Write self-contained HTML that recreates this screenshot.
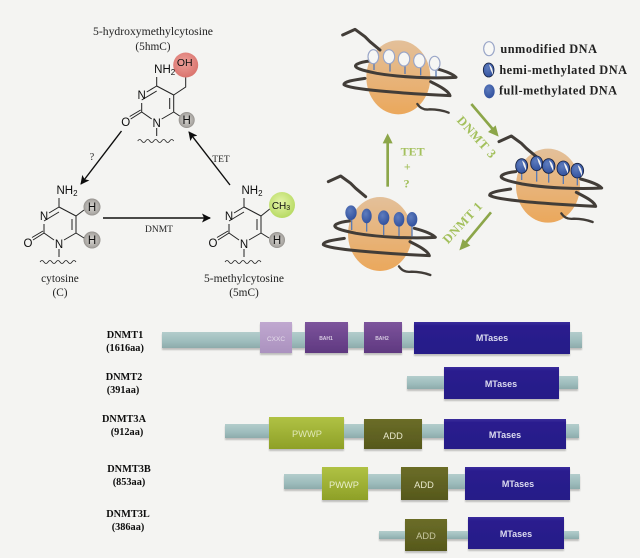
<!DOCTYPE html>
<html>
<head>
<meta charset="utf-8">
<style>
html,body{margin:0;padding:0;background:#f4f4f2;}
svg{display:block;}
text{font-family:"Liberation Serif",serif;}
.s text{font-family:"Liberation Sans",sans-serif;}
</style>
</head>
<body>
<svg width="640" height="558" viewBox="0 0 640 558" xmlns="http://www.w3.org/2000/svg">
<defs>
<filter id="soft" x="-2%" y="-2%" width="104%" height="104%"><feGaussianBlur stdDeviation="0.3"/></filter>
<filter id="sh" x="-5%" y="-10%" width="110%" height="125%"><feGaussianBlur stdDeviation="0.7"/></filter>
<linearGradient id="bar" x1="0" y1="0" x2="0" y2="1"><stop offset="0" stop-color="#b3cdcc"/><stop offset=".6" stop-color="#9dbcbc"/><stop offset="1" stop-color="#8dabab"/></linearGradient>
<linearGradient id="mt" x1="0" y1="0" x2="0" y2="1"><stop offset="0" stop-color="#3a2c9c"/><stop offset=".12" stop-color="#2a1d8e"/><stop offset="1" stop-color="#261a88"/></linearGradient>
<linearGradient id="pw" x1="0" y1="0" x2="0" y2="1"><stop offset="0" stop-color="#b0c244"/><stop offset="1" stop-color="#8ea027"/></linearGradient>
<linearGradient id="ad" x1="0" y1="0" x2="0" y2="1"><stop offset="0" stop-color="#6b6d28"/><stop offset="1" stop-color="#56581c"/></linearGradient>
<linearGradient id="ba" x1="0" y1="0" x2="0" y2="1"><stop offset="0" stop-color="#7c549c"/><stop offset="1" stop-color="#5f3880"/></linearGradient>
<linearGradient id="cx" x1="0" y1="0" x2="0" y2="1"><stop offset="0" stop-color="#c0a8d0"/><stop offset="1" stop-color="#ab92bf"/></linearGradient>
<linearGradient id="core" x1="0" y1="0" x2="0" y2="1"><stop offset="0" stop-color="#e3c09a"/><stop offset="1" stop-color="#eba85c"/></linearGradient>
<radialGradient id="hc" cx=".5" cy=".5" r=".6"><stop offset="0" stop-color="#d8d6d2"/><stop offset=".7" stop-color="#aaa7a3"/><stop offset="1" stop-color="#6f6c68"/></radialGradient>
<radialGradient id="red" cx=".45" cy=".4" r=".65"><stop offset="0" stop-color="#eea09a"/><stop offset="1" stop-color="#d8706a"/></radialGradient>
<radialGradient id="grn" cx=".45" cy=".4" r=".65"><stop offset="0" stop-color="#e4f4a8"/><stop offset="1" stop-color="#b4d85e"/></radialGradient>
<radialGradient id="blu" cx=".4" cy=".35" r=".7"><stop offset="0" stop-color="#5e7cbe"/><stop offset="1" stop-color="#2f4f9c"/></radialGradient>
<marker id="ah" markerWidth="10" markerHeight="10" refX="8" refY="4.500" orient="auto" markerUnits="userSpaceOnUse"><path d="M0 0L9 4.500L0 9L2 4.500Z" fill="#111"/></marker>

<g id="ring" fill="none" stroke="#222" stroke-width="1">
  <path d="M44 221L59 212M59 207L49 213M59 207L76 216M76 216V233M72 219V230M76 233L64 240M54 240L44 233M44 233V224M44 233L33 240M43 231L32 237.500M59 249V257"/>
  <path d="M40 262q2-3 4 0t4 0t4 0t4 0t4 0t4 0t4 0t4 0t4 0" stroke-width=".8"/>
  <path d="M59 207V198"/>
</g>
<g id="core1"><ellipse cx="235" cy="232" rx="96" ry="111" fill="url(#core)"/></g>
<g id="tailT" fill="none" stroke="#423d39" stroke-width="9" stroke-linecap="round" stroke-linejoin="round">
  <path d="M68 105L105 88L135 110L150 125L180 150"/>
</g>
<g id="tailB" fill="none" stroke="#423d39" stroke-width="7" stroke-linecap="round" stroke-linejoin="round">
  <path d="M292 312Q305 332 330 328Q360 328 386 338"/>
</g>
<g id="rings" fill="none" stroke="#423d39" stroke-width="9" stroke-linecap="round" stroke-linejoin="round">
  <path d="M345 205Q395 218 408 232C340 236 240 232 170 220C130 212 95 203 110 193Q125 185 150 183"/>
  <path d="M135 235C100 240 70 245 72 254C90 268 240 280 390 287C385 270 350 255 332 245"/>
</g>
</defs>

<rect width="640" height="558" fill="#f4f4f2"/>
<g filter="url(#soft)">

<!-- Chemistry -->
<g text-anchor="middle" fill="#222" font-size="11.300">
  <text x="153" y="35" textLength="120" lengthAdjust="spacingAndGlyphs">5-hydroxymethylcytosine</text>
  <text x="153" y="50">(5hmC)</text>
  <text x="60" y="282">cytosine</text>
  <text x="60" y="296">(C)</text>
  <text x="244" y="282" textLength="80" lengthAdjust="spacingAndGlyphs">5-methylcytosine</text>
  <text x="244" y="296">(5mC)</text>
  <text x="92" y="160" font-size="10">?</text>
  <text x="221" y="162" font-size="9.500">TET</text>
  <text x="159" y="232" font-size="9.500">DNMT</text>
</g>

<!-- cytosine -->
<g>
  <use href="#ring"/>
  <circle cx="92" cy="207" r="8.500" fill="url(#hc)"/>
  <circle cx="92" cy="240" r="8.500" fill="url(#hc)"/>
  <path d="M76 216L84 210M76 233L84 238" stroke="#222" fill="none"/>
  <g class="s" fill="#111" font-size="11.500" text-anchor="middle">
    <text x="44" y="220">N</text><text x="59" y="248">N</text><text x="28" y="247">O</text>
    <text x="67" y="194">NH<tspan font-size="8" dy="2">2</tspan></text>
    <text x="92" y="211">H</text><text x="92" y="244">H</text>
  </g>
</g>

<!-- 5mC -->
<g transform="translate(185,0)">
  <use href="#ring"/>
  <path d="M76 216L86 208" stroke="#222" fill="none"/>
  <circle cx="97" cy="205" r="13" fill="url(#grn)"/>
  <circle cx="92" cy="240" r="8" fill="url(#hc)"/>
  <path d="M76 233L84 238" stroke="#222" fill="none"/>
  <g class="s" fill="#111" font-size="11.500" text-anchor="middle">
    <text x="44" y="220">N</text><text x="59" y="248">N</text><text x="28" y="247">O</text>
    <text x="67" y="194">NH<tspan font-size="8" dy="2">2</tspan></text>
    <text x="96" y="209" font-size="10">CH<tspan font-size="7" dy="1">3</tspan></text><text x="92" y="244">H</text>
  </g>
</g>

<!-- 5hmC -->
<g transform="translate(97.700,-121)">
  <use href="#ring"/>
  <path d="M76 216L88 208L88 197" stroke="#222" fill="none"/>
  <circle cx="88" cy="186" r="12.500" fill="url(#red)"/>
  <circle cx="89" cy="241" r="8" fill="url(#hc)"/>
  <path d="M76 233L82 237" stroke="#222" fill="none"/>
  <g class="s" fill="#111" font-size="11.500" text-anchor="middle">
    <text x="44" y="220">N</text><text x="59" y="248">N</text><text x="28" y="247">O</text>
    <text x="67" y="194">NH<tspan font-size="8" dy="2">2</tspan></text>
    <text x="87" y="187" font-size="10.500">OH</text><text x="89" y="245">H</text>
  </g>
</g>

<g stroke="#111" stroke-width="1.400" fill="none">
  <path d="M121.500 131L81 184" marker-end="url(#ah)"/>
  <path d="M230 185L189 132" marker-end="url(#ah)"/>
  <path d="M103 218H210" marker-end="url(#ah)"/>
</g>

<!-- Nucleosomes -->
<g transform="translate(320,0) scale(.33333)">
  <!-- top -->
  <use href="#core1"/><use href="#tailT"/><use href="#tailB"/><use href="#rings"/>
  <g stroke="#5c7cb4" stroke-width="4" fill="none"><path d="M162 190V210M210 190V215M255 197V222M302 202V226M348 210V230"/></g>
  <g fill="#f6f6f4" stroke="#9aa6c8" stroke-width="3.500">
    <ellipse cx="160" cy="170" rx="16" ry="21"/><ellipse cx="207" cy="170" rx="17" ry="21"/><ellipse cx="252" cy="177" rx="17" ry="21"/><ellipse cx="298" cy="182" rx="17" ry="21"/><ellipse cx="344" cy="190" rx="16" ry="21"/>
  </g>

  <!-- middle -->
  <g transform="translate(449,325)"><use href="#core1"/></g>
  <g transform="translate(469,320)"><use href="#tailT"/></g>
  <g transform="translate(432,328)"><use href="#tailB"/></g>
  <g transform="translate(437,332)"><use href="#rings"/></g>
  <g stroke="#5c7cb4" stroke-width="4" fill="none"><path d="M605 515V540M650 510V545M686 518V548M730 525V552M772 530V556"/></g>
  <g stroke="#16203f" stroke-width="2.500">
    <ellipse cx="605" cy="498" rx="18" ry="22" fill="url(#blu)"/><ellipse cx="650" cy="490" rx="18" ry="22" fill="url(#blu)"/><ellipse cx="686" cy="498" rx="19" ry="22" fill="url(#blu)"/><ellipse cx="730" cy="505" rx="19" ry="22" fill="url(#blu)"/><ellipse cx="772" cy="512" rx="19" ry="22" fill="url(#blu)"/>
  </g>
  <g fill="#f2f2f2"><path d="M606 481Q620 490 618 512Q610 498 606 481ZM651 473Q665 482 663 504Q655 490 651 473ZM687 481Q702 490 700 514Q691 498 687 481ZM731 488Q746 497 744 521Q735 505 731 488ZM773 495Q788 504 786 528Q777 512 773 495Z"/></g>

  <!-- bottom-left -->
  <g transform="translate(-55,470)"><use href="#core1"/></g>
  <g transform="translate(-43,440)"><use href="#tailT"/></g>
  <g transform="translate(-55,487)"><use href="#tailB"/></g>
  <g transform="translate(-62,480)"><use href="#rings"/></g>
  <g stroke="#5c7cb4" stroke-width="4" fill="none"><path d="M95 655V690M140 665V695M191 670V705M237 675V708M276 675V710"/></g>
  <g fill="url(#blu)">
    <ellipse cx="93" cy="638" rx="17" ry="22"/><ellipse cx="140" cy="648" rx="15" ry="22"/><ellipse cx="191" cy="653" rx="17" ry="22"/><ellipse cx="237" cy="658" rx="16" ry="22"/><ellipse cx="276" cy="658" rx="16" ry="22"/>
  </g>

  <!-- legend -->
  <ellipse cx="507" cy="146" rx="16" ry="21" fill="#f8f8f6" stroke="#9aa6c8" stroke-width="3.500"/>
  <ellipse cx="506" cy="210" rx="16" ry="21" fill="url(#blu)" stroke="#16203f" stroke-width="2.500"/>
  <path d="M507 193Q520 202 519 225Q511 210 507 193Z" fill="#f2f2f2"/>
  <ellipse cx="508" cy="274" rx="16" ry="21" fill="url(#blu)"/>
  <g font-size="37" font-weight="bold" fill="#222">
    <text x="541" y="159" textLength="290">unmodified DNA</text>
    <text x="538" y="222" textLength="383">hemi-methylated DNA</text>
    <text x="537" y="284" textLength="354">full-methylated DNA</text>
  </g>

  <!-- green arrows -->
  <g fill="none" stroke="#8ca64a" stroke-width="8">
    <path d="M203 560V420"/>
    <path d="M454 312L522 392"/>
    <path d="M513 637L434 732"/>
  </g>
  <g fill="#8ca64a">
    <path d="M203 400L218 430H188Z"/>
    <path d="M536 410L504 396L527 376Z"/>
    <path d="M418 751L428 717L451 737Z"/>
  </g>
  <g font-size="36" font-weight="bold" fill="#a3c05c" text-anchor="middle">
    <text x="278" y="466">TET</text>
    <text x="262" y="512">+</text>
    <text x="260" y="562">?</text>
    <text transform="translate(461,420) rotate(48)" font-size="38" letter-spacing="2">DNMT 3</text>
    <text transform="translate(437,676) rotate(-47)" font-size="38" letter-spacing="2">DNMT 1</text>
  </g>
</g>

<!-- Domain bars -->
<g fill="#000" opacity=".22" filter="url(#sh)">
  <rect x="162" y="334" width="420" height="16"/><rect x="407" y="378" width="171" height="13"/><rect x="225" y="426" width="354" height="14"/><rect x="284" y="476" width="296" height="15"/><rect x="379" y="533" width="200" height="8"/>
  <rect x="260" y="324" width="32" height="31"/><rect x="305" y="324" width="43" height="31"/><rect x="364" y="324" width="38" height="31"/><rect x="414" y="324" width="156" height="32"/>
  <rect x="444" y="369" width="115" height="32"/><rect x="269" y="419" width="75" height="32"/><rect x="364" y="421" width="58" height="30"/><rect x="444" y="421" width="122" height="30"/>
  <rect x="322" y="469" width="46" height="33"/><rect x="401" y="469" width="47" height="33"/><rect x="465" y="469" width="105" height="33"/><rect x="405" y="521" width="42" height="32"/><rect x="468" y="519" width="96" height="32"/>
</g>
<g fill="url(#bar)">
  <rect x="162" y="332" width="420" height="16"/>
  <rect x="407" y="376" width="171" height="13"/>
  <rect x="225" y="424" width="354" height="14"/>
  <rect x="284" y="474" width="296" height="15"/>
  <rect x="379" y="531" width="200" height="8"/>
</g>
<rect x="260" y="322" width="32" height="31" fill="url(#cx)"/>
<rect x="305" y="322" width="43" height="31" fill="url(#ba)"/>
<rect x="364" y="322" width="38" height="31" fill="url(#ba)"/>
<rect x="414" y="322" width="156" height="32" fill="url(#mt)"/>
<rect x="444" y="367" width="115" height="32" fill="url(#mt)"/>
<rect x="269" y="417" width="75" height="32" fill="url(#pw)"/>
<rect x="364" y="419" width="58" height="30" fill="url(#ad)"/>
<rect x="444" y="419" width="122" height="30" fill="url(#mt)"/>
<rect x="322" y="467" width="46" height="33" fill="url(#pw)"/>
<rect x="401" y="467" width="47" height="33" fill="url(#ad)"/>
<rect x="465" y="467" width="105" height="33" fill="url(#mt)"/>
<rect x="405" y="519" width="42" height="32" fill="url(#ad)"/>
<rect x="468" y="517" width="96" height="32" fill="url(#mt)"/>

<g class="s" text-anchor="middle" fill="#dcdcf0" font-size="9" font-weight="bold">
  <text x="276" y="341" fill="#e4dcea" font-size="6.500" font-weight="normal">CXXC</text>
  <text x="326" y="340" fill="#d8cce2" font-size="5">BAH1</text>
  <text x="382" y="340" fill="#d8cce2" font-size="5">BAH2</text>
  <text x="492" y="341">MTases</text>
  <text x="501" y="387">MTases</text>
  <text x="505" y="438">MTases</text>
  <text x="518" y="487">MTases</text>
  <text x="516" y="537">MTases</text>
  <g font-size="9.300" font-weight="normal">
  <text x="307" y="437" fill="#e0e8b8">PWWP</text>
  <text x="393" y="439" fill="#e8e8cc">ADD</text>
  <text x="344" y="488" fill="#e8eecc">PWWP</text>
  <text x="424" y="488" fill="#e8e8cc">ADD</text>
  <text x="426" y="539" fill="#c8c8a0">ADD</text>
  </g>
</g>

<g text-anchor="middle" font-size="10.300" font-weight="bold" fill="#111">
  <text x="125" y="338">DNMT1</text><text x="125" y="351">(1616aa)</text>
  <text x="124" y="380">DNMT2</text><text x="123" y="393">(391aa)</text>
  <text x="124" y="422">DNMT3A</text><text x="127" y="435">(912aa)</text>
  <text x="129" y="472">DNMT3B</text><text x="129" y="485">(853aa)</text>
  <text x="128" y="517">DNMT3L</text><text x="128" y="530">(386aa)</text>
</g>
</g>
</svg>
</body>
</html>
